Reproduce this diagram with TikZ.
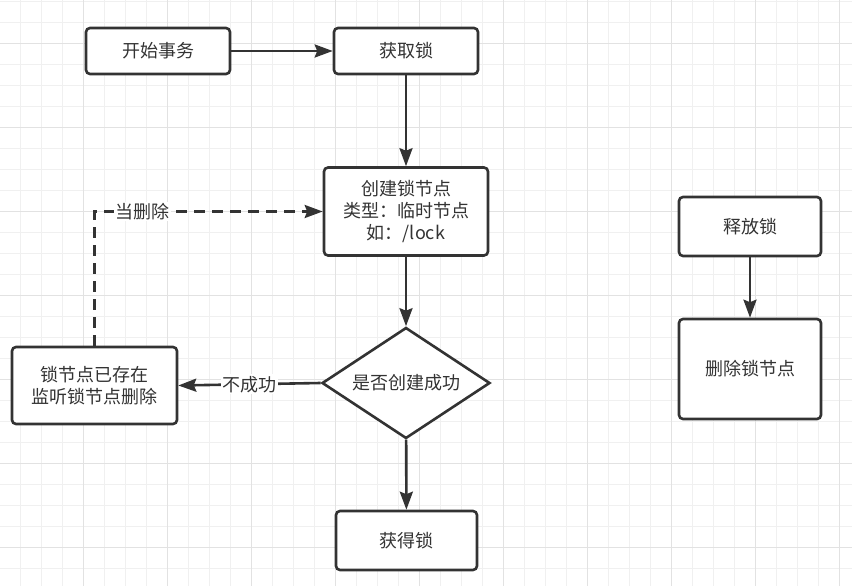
\documentclass[tikz,border=0pt]{standalone}
\usepackage{fontspec}
\setmainfont{Noto Sans CJK SC}
\usetikzlibrary{arrows.meta,shapes.geometric}
\definecolor{linec}{HTML}{333333}
\definecolor{gridminor}{HTML}{F0F0F0}
\definecolor{gridmajor}{HTML}{E2E2E2}

\tikzset{
  flowbox/.style={draw=linec,line width=2.6pt,rounded corners=4pt,fill=white,
    align=center,text=linec,inner sep=2pt},
  decision/.style={diamond,draw=linec,line width=2.6pt,fill=white,text=linec,
    inner sep=0pt,aspect=1.5},
  flow/.style={draw=linec,line width=2.6pt,->},
  flowlabel/.style={fill=white,text=linec,inner sep=1.5pt}
}

\begin{document}
\begin{tikzpicture}[x=1pt,y=-1pt,>={Stealth[length=18pt,width=13pt,inset=2.5pt]},
  font=\fontsize{18}{22}\selectfont]
  \useasboundingbox (0,0) rectangle (852,586);
  \fill[white] (0,0) rectangle (852,586);
  % grid
  \foreach \i in {0,...,41} \draw[gridminor,line width=1pt] ({-0.7+21*\i},0)--({-0.7+21*\i},586);
  \foreach \i in {0,...,27} \draw[gridminor,line width=1pt] (0,{1.3+21*\i})--(852,{1.3+21*\i});
  \foreach \i in {0,...,9} \draw[gridmajor,line width=1pt] ({83.3+84*\i},0)--({83.3+84*\i},586);
  \foreach \i in {0,...,6} \draw[gridmajor,line width=1pt] (0,{43.3+84*\i})--(852,{43.3+84*\i});

  % nodes
  \node[flowbox,minimum width=144pt,minimum height=46pt] (start) at (158,51) {开始事务};
  \node[flowbox,minimum width=144pt,minimum height=46pt] (acquire) at (406,51) {获取锁};
  \node[flowbox,minimum width=164pt,minimum height=88pt] (create) at (406,211.5)
    {创建锁节点\\类型：临时节点\\如：/lock};
  \node[decision,minimum width=168pt,minimum height=111pt] (check) at (406,383) {是否创建成功};
  \node[flowbox,minimum width=141pt,minimum height=59pt] (got) at (406.5,540.5) {获得锁};
  \node[flowbox,minimum width=165pt,minimum height=77pt] (watch) at (94.5,385.5)
    {锁节点已存在\\监听锁节点删除};
  \node[flowbox,minimum width=142pt,minimum height=59pt] (release) at (750,226.5) {释放锁};
  \node[flowbox,minimum width=142pt,minimum height=100pt] (delete) at (750,369) {删除锁节点};

  % connectors
  \draw[flow] (start) -- (acquire);
  \draw[flow] (acquire) -- (create);
  \draw[flow] (create) -- (check);
  \draw[flow] (check) -- (got);
  \draw[flow] (check.west) -- node[flowlabel]{不成功} (watch.east);
  \draw[flow,dash pattern=on 11pt off 7pt] (watch.north) |- node[flowlabel,pos=0.606]{当删除} (create.west);
  \draw[flow] (release) -- (delete);
\end{tikzpicture}
\end{document}
